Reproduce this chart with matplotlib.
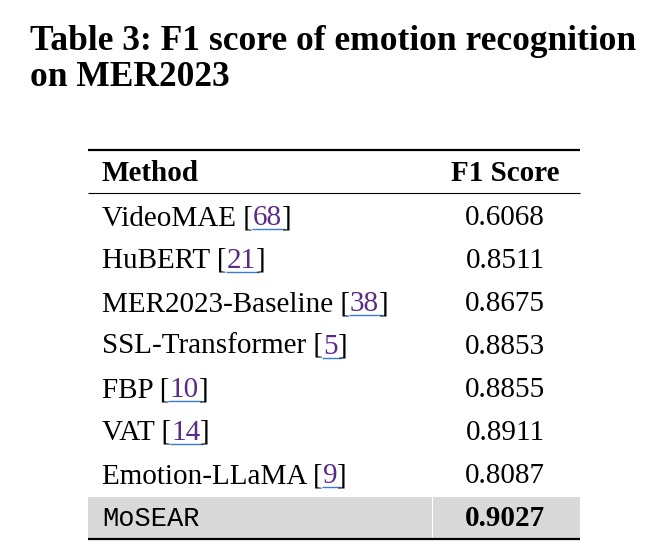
import matplotlib
matplotlib.use("Agg")
import matplotlib.pyplot as plt
from matplotlib.patches import Rectangle

title_lines = ["Table 3: F1 score of emotion recognition", "on MER2023"]
col_headers = ["Method", "F1 Score"]
methods = ["VideoMAE", "HuBERT", "MER2023-Baseline", "SSL-Transformer", "FBP", "VAT", "Emotion-LLaMA"]
refs = ["68", "21", "38", "5", "10", "14", "9"]
scores = ["0.6068", "0.8511", "0.8675", "0.8853", "0.8855", "0.8911", "0.8087"]
ours_name = "MoSEAR"
ours_score = "0.9027"

W, H = 664, 558
fig = plt.figure(figsize=(W / 100, H / 100), dpi=100)
ax = fig.add_axes([0, 0, 1, 1])
ax.set_xlim(0, W)
ax.set_ylim(H, 0)
ax.axis("off")

SERIF = ["Liberation Serif", "DejaVu Serif"]
MONO = ["Liberation Mono", "DejaVu Sans Mono"]
BODY = 21
TITLE = 25.5
PURPLE = "#5b2a86"
BLUE = "#3a7bd5"

fig.canvas.draw()
renderer = fig.canvas.get_renderer()


def width_px(t):
    bb = t.get_window_extent(renderer=renderer)
    return bb.width


# title
for i, line in enumerate(title_lines):
    ax.text(30, 50 + i * 35.5, line, fontsize=TITLE, fontweight="bold", family=SERIF,
            ha="left", va="baseline", color="black")

x_left = 88
x_right = 580
x_num = 505
y_top_rule = 150
y_head = 181
y_head_rule = 193
y0 = 225
dy = 43

# rules
ax.plot([x_left, x_right], [y_top_rule, y_top_rule], color="black", lw=1.6, solid_capstyle="butt")
ax.plot([x_left, x_right], [y_head_rule, y_head_rule], color="black", lw=0.8, solid_capstyle="butt")

# header
ax.text(102, y_head, col_headers[0], fontsize=BODY, fontweight="bold", family=SERIF, ha="left", va="baseline")
ax.text(x_num, y_head, col_headers[1], fontsize=BODY, fontweight="bold", family=SERIF, ha="center", va="baseline")

# rows
for i, (m, r, s) in enumerate(zip(methods, refs, scores)):
    y = y0 + i * dy
    t1 = ax.text(102, y, m + " [", fontsize=BODY, family=SERIF, ha="left", va="baseline")
    w1 = width_px(t1)
    t2 = ax.text(102 + w1, y, r, fontsize=BODY, family=SERIF, ha="left", va="baseline", color=PURPLE)
    w2 = width_px(t2)
    ax.text(102 + w1 + w2, y, "]", fontsize=BODY, family=SERIF, ha="left", va="baseline")
    ax.plot([102 + w1 - 1, 102 + w1 + w2 + 3], [y + 4, y + 4], color=BLUE, lw=1.0, solid_capstyle="butt")
    ax.text(x_num, y, s, fontsize=BODY, family=SERIF, ha="center", va="baseline")

# highlighted last row
y_last = y0 + len(methods) * dy
ax.add_patch(Rectangle((x_left, 497), 432 - x_left, 41, facecolor="#d9d9d9", edgecolor="none"))
ax.add_patch(Rectangle((433, 497), x_right - 433, 41, facecolor="#d9d9d9", edgecolor="none"))
ax.text(102, y_last, ours_name, fontsize=19.5, family=MONO, ha="left", va="baseline")
ax.text(x_num, y_last, ours_score, fontsize=BODY, fontweight="bold", family=SERIF, ha="center", va="baseline")
ax.plot([x_left, x_right], [539, 539], color="black", lw=1.6, solid_capstyle="butt")

fig.savefig("out.png", dpi=100, facecolor="white")
